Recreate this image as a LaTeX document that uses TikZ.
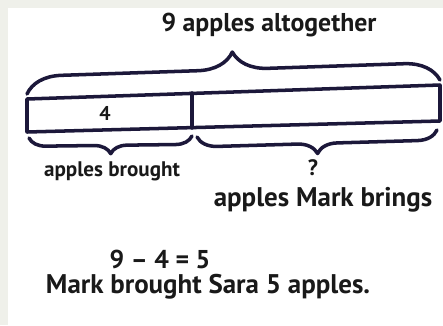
\documentclass[tikz,border=0pt]{standalone}
\usepackage{fontspec}
\setmainfont{PT Sans}
\usetikzlibrary{positioning}
\usetikzlibrary{calc}
\usetikzlibrary{decorations.pathreplacing}
\definecolor{ink}{RGB}{28,24,58}
\definecolor{paper}{RGB}{239,240,234}

\begin{document}
\begin{tikzpicture}[x=0.03cm, y=-0.03cm,
    pen/.style={line width=3pt, draw=ink, line cap=round, line join=round},
    curly/.style={pen, decorate, decoration={brace, amplitude=#1}},
    hand/.style={font=\fontsize{#1}{#1}\selectfont\bfseries, text=black!90, inner sep=0pt},
    hand/.default=20]
    % paper
    \fill[paper] (0,0) rectangle (443,325);
    \fill[white] (8,8) rectangle (443,325);
    \useasboundingbox (0,0) rectangle (443,325);

    % bar
    \coordinate (tl) at (27,99);
    \coordinate (tm) at (192,93);
    \coordinate (tr) at (440,85);
    \coordinate (bl) at (27,132);
    \coordinate (bm) at (192,128);
    \coordinate (br) at (440,121);
    \draw[pen] (tl) -- (tr) -- (br) -- (bl) -- cycle;
    \draw[pen] (tm) -- (bm);
    \node[hand=17] (known) at (105,113) {4};

    % braces
    \draw[curly=1.05cm] ($(tl)+(0,-5)$) -- ($(tr)+(0,-5)$);
    \node[hand=22] (total) at (269,25) {9 apples altogether};

    \draw[curly=0.5cm] ($(bm)+(0,8)$) -- ($(bl)+(2,6)$);
    \node[hand=18] (brought) at (112,171) {apples brought};

    \draw[curly=0.6cm] ($(br)+(-3,9)$) -- ($(bm)+(5,9)$);
    \node[hand=19] (unknown) at (313,168) {?};
    \node[hand=23] (brings) at (323,200) {apples Mark brings};

    % answer
    \node[hand=22] (sum) at (160,259) {9 -- 4 = 5};
    \node[hand=23] (answer) at (208,287) {Mark brought Sara 5 apples.};
\end{tikzpicture}
\end{document}
